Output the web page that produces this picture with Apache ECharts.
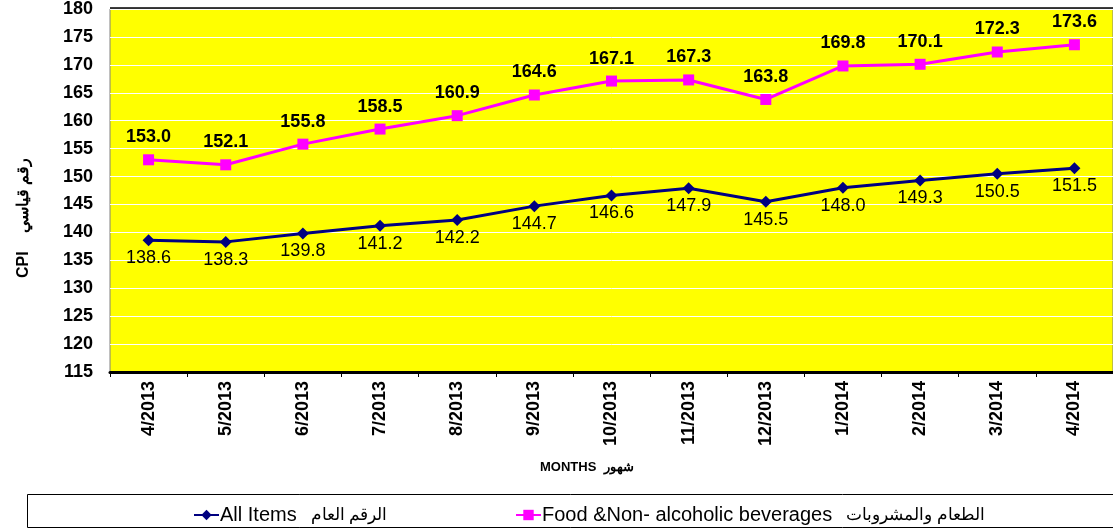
<!DOCTYPE html>
<html><head><meta charset="utf-8">
<script src="https://cdn.jsdelivr.net/npm/echarts@6/dist/echarts.min.js"></script>
<style>html,body{margin:0;padding:0;background:#fff}#c{width:1113px;height:529px}</style>
</head><body><div id="c"></div>
<script>
const months = ['4/2013','5/2013','6/2013','7/2013','8/2013','9/2013','10/2013','11/2013','12/2013','1/2014','2/2014','3/2014','4/2014'];
const allItems = [138.6,138.3,139.8,141.2,142.2,144.7,146.6,147.9,145.5,148.0,149.3,150.5,151.5];
const food = [153.0,152.1,155.8,158.5,160.9,164.6,167.1,167.3,163.8,169.8,170.1,172.3,173.6];
const yTicks = {min:115, max:180, interval:5};
const nameAll = 'All Items';
const arAll = 'الرقم العام';
const nameFood = 'Food &Non- alcoholic beverages';
const arFood = 'الطعام والمشروبات';
const F = 'Arial, "Liberation Sans", sans-serif';
const chart = echarts.init(document.getElementById('c'));
const legendCommon = {top:500, itemWidth:25, itemHeight:13, itemGap:0,
  formatter: n => '{e|' + n + '}{s|}{a|' + (n === nameAll ? arAll : arFood) + '}',
  textStyle:{fontSize:20,color:'#000',fontFamily:F,padding:[0,0,0,-4],
    rich:{e:{fontSize:20,fontFamily:F,color:'#000'},s:{width:14},a:{fontSize:17,fontFamily:F,color:'#000'}}}};
chart.setOption({
  animation:false,
  textStyle:{fontFamily:F},
  grid:{left:110,right:0,top:8,bottom:157,backgroundColor:'#FFFF00',show:true,borderColor:'#808080',borderWidth:1},
  legend:[
    Object.assign({left:188, data:[nameAll]}, legendCommon),
    Object.assign({left:510, data:[nameFood]}, legendCommon)
  ],
  graphic:[
    {type:'rect',shape:{x:27.5,y:494.5,width:1090,height:33},style:{fill:'none',stroke:'#000',lineWidth:1}},
    {type:'line',shape:{x1:110,y1:8,x2:1113,y2:8},style:{stroke:'#000',lineWidth:1.5}},
    {type:'text',x:540,y:467,style:{text:'MONTHS  شهور',font:'bold 13px '+F,fill:'#000',verticalAlign:'middle'}},
    {type:'text',x:24,y:218,rotation:Math.PI/2,style:{text:'CPI    رقم قياسي',font:'bold 16px '+F,fill:'#000',align:'center',verticalAlign:'middle'}}
  ],
  xAxis:{
    type:'category',data:months,boundaryGap:true,
    axisLine:{lineStyle:{color:'#000',width:3}},
    axisTick:{show:true,length:5,lineStyle:{color:'#000',width:1},alignWithLabel:false},
    axisLabel:{rotate:90,fontSize:18,fontWeight:'bold',color:'#000',margin:9,interval:0,fontFamily:F},
    splitLine:{show:false}
  },
  yAxis:{
    type:'value',min:yTicks.min,max:yTicks.max,interval:yTicks.interval,
    axisLine:{show:false},axisTick:{show:false},
    axisLabel:{fontSize:18,fontWeight:'bold',color:'#000',margin:17,fontFamily:F},
    splitLine:{lineStyle:{color:'#FFFFFF',width:1}}
  },
  series:[
    {name:nameAll,type:'line',data:allItems,color:'#000080',
     lineStyle:{width:3,color:'#000080'},symbol:'diamond',symbolSize:12,
     itemStyle:{color:'#000080'},
     label:{show:true,position:'bottom',distance:3,fontSize:18,color:'#000',fontFamily:F,formatter:p=>p.value.toFixed(1)}},
    {name:nameFood,type:'line',data:food,color:'#FF00FF',
     lineStyle:{width:3,color:'#FF00FF'},symbol:'rect',symbolSize:11,
     itemStyle:{color:'#FF00FF'},
     label:{show:true,position:'top',distance:8,fontSize:18,fontWeight:'bold',color:'#000',fontFamily:F,formatter:p=>p.value.toFixed(1)}}
  ]
});
</script></body></html>
